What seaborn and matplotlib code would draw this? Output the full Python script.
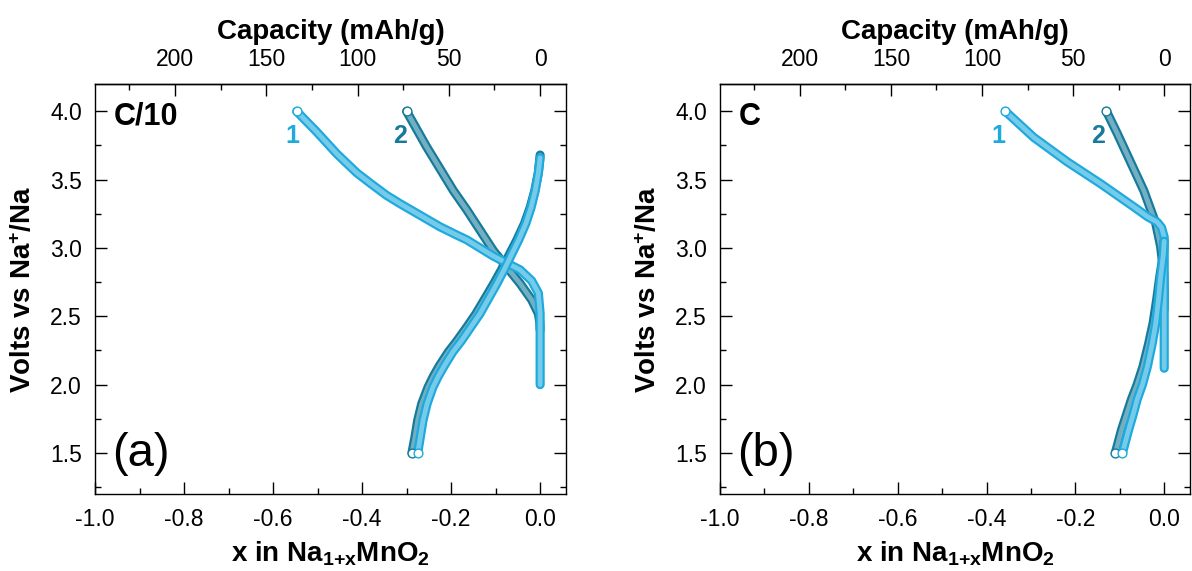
import numpy as np
import pandas as pd
import matplotlib
matplotlib.use('Agg')
import matplotlib.pyplot as plt
import seaborn as sns
from matplotlib.ticker import MultipleLocator, FormatStrFormatter

# ---------------- data ----------------
# Panel (a)  C/10
a_c1_chg_x = [0.0, 0.0, 0.0, -0.004, -0.019, -0.045, -0.075, -0.105, -0.135, -0.165,
              -0.187, -0.225, -0.270, -0.315, -0.345, -0.380, -0.412, -0.457, -0.502, -0.547]
a_c1_chg_v = [2.00, 2.30, 2.52, 2.67, 2.76, 2.84, 2.89, 2.94, 3.00, 3.06,
              3.094, 3.155, 3.24, 3.325, 3.385, 3.47, 3.55, 3.69, 3.85, 4.00]

a_c1_dis_v = [3.66, 3.55, 3.42, 3.30, 3.18, 3.06, 2.94, 2.84, 2.74, 2.63, 2.52,
              2.42, 2.32, 2.24, 2.14, 2.06, 1.98, 1.86, 1.74, 1.62, 1.50]
a_c1_dis_x = [0.0, -0.004, -0.011, -0.020, -0.032, -0.048, -0.066, -0.081, -0.097, -0.116, -0.135,
              -0.156, -0.177, -0.196, -0.215, -0.229, -0.241, -0.254, -0.263, -0.269, -0.275]
a_c2_dis_v = [3.68, 3.55, 3.42, 3.30, 3.18, 3.06, 2.94, 2.84, 2.74, 2.63, 2.52,
              2.42, 2.32, 2.24, 2.14, 2.06, 1.98, 1.86, 1.74, 1.62, 1.50]
a_c2_dis_x = [0.0, -0.004, -0.012, -0.022, -0.035, -0.052, -0.071, -0.087, -0.104, -0.124, -0.144,
              -0.165, -0.187, -0.206, -0.226, -0.240, -0.252, -0.266, -0.275, -0.281, -0.288]

a_c2_chg_x = [0.0, -0.001, -0.004, -0.019, -0.045, -0.075, -0.105, -0.135, -0.165, -0.195, -0.255, -0.300]
a_c2_chg_v = [2.40, 2.46, 2.52, 2.62, 2.74, 2.86, 2.98, 3.13, 3.28, 3.42, 3.74, 4.00]

# Panel (b)  C
b_c1_chg_x = [0.0, 0.0, 0.0, 0.0, -0.006, -0.016, -0.038, -0.068, -0.143, -0.218, -0.294, -0.3575]
b_c1_chg_v = [2.12, 2.60, 2.95, 3.08, 3.15, 3.19, 3.23, 3.30, 3.47, 3.63, 3.81, 4.00]

b_dis_v = [3.05, 2.95, 2.79, 2.62, 2.45, 2.30, 2.13, 2.00, 1.89, 1.78, 1.67, 1.50]
b_c1_dis_x = [0.0, -0.002, -0.008, -0.013, -0.019, -0.027, -0.038, -0.049, -0.061, -0.070, -0.080, -0.094]
b_c2_dis_x = [0.0, -0.002, -0.010, -0.017, -0.025, -0.035, -0.048, -0.061, -0.074, -0.085, -0.096, -0.110]

b_c2_chg_x = [0.0, 0.0, -0.001, -0.008, -0.019, -0.046, -0.076, -0.106, -0.130]
b_c2_chg_v = [2.55, 2.70, 2.81, 3.01, 3.18, 3.42, 3.63, 3.84, 4.00]

x_ticks = [-1.0, -0.8, -0.6, -0.4, -0.2, 0.0]
y_ticks = [1.5, 2.0, 2.5, 3.0, 3.5, 4.0]
cap_ticks = [0, 50, 100, 150, 200]
CAP = 243.8   # mAh/g per unit x in NaMnO2

# ---------------- style ----------------
sns.set_style('ticks')
plt.rcParams['font.family'] = ['Liberation Sans', 'DejaVu Sans']
plt.rcParams['mathtext.fontset'] = 'custom'
plt.rcParams['mathtext.rm'] = 'Liberation Sans'
plt.rcParams['mathtext.bf'] = 'Liberation Sans:bold'
plt.rcParams['mathtext.default'] = 'bf'
plt.rcParams['axes.unicode_minus'] = False
for k in ('text.color', 'axes.labelcolor', 'xtick.color', 'ytick.color', 'axes.edgecolor'):
    plt.rcParams[k] = 'black'

LIGHT = '#1eaadd'
DARK = '#167b9b'

fig = plt.figure(figsize=(11.92, 5.71), dpi=100)
axa = fig.add_axes([0.0797, 0.1349, 0.3951, 0.7180])
axb = fig.add_axes([0.604, 0.1349, 0.3943, 0.7180])


def draw(ax, xs, vs, color):
    df = pd.DataFrame({'x': xs, 'V': vs})
    sns.lineplot(data=df, x='x', y='V', sort=False, estimator=None, color=color,
                 lw=6.6, ax=ax, solid_capstyle='round', solid_joinstyle='round')
    sns.lineplot(data=df, x='x', y='V', sort=False, estimator=None, color='white',
                 lw=3.4, alpha=0.4, ax=ax, solid_capstyle='round', solid_joinstyle='round')
    sns.scatterplot(x=[xs[-1]], y=[vs[-1]], ax=ax, s=40, color='white',
                    edgecolor=color, linewidth=1.0, zorder=5)


# dark (cycle 2) first, light (cycle 1) on top
draw(axa, a_c2_chg_x, a_c2_chg_v, DARK)
draw(axa, a_c2_dis_x, a_c2_dis_v, DARK)
draw(axa, a_c1_chg_x, a_c1_chg_v, LIGHT)
draw(axa, a_c1_dis_x, a_c1_dis_v, LIGHT)

draw(axb, b_c2_chg_x, b_c2_chg_v, DARK)
draw(axb, b_c2_dis_x, b_dis_v, DARK)
draw(axb, b_c1_chg_x, b_c1_chg_v, LIGHT)
draw(axb, b_c1_dis_x, b_dis_v, LIGHT)


def fwd(x):
    return -np.asarray(x) * CAP


def inv(c):
    return -np.asarray(c) / CAP


TICK = 16.5
LAB = 20
for ax in (axa, axb):
    ax.set_xlim(-1.0, 0.058)
    ax.set_ylim(1.2, 4.2)
    ax.set_xticks(x_ticks)
    ax.set_yticks(y_ticks)
    ax.xaxis.set_minor_locator(MultipleLocator(0.1))
    ax.yaxis.set_minor_locator(MultipleLocator(0.25))
    ax.xaxis.set_major_formatter(FormatStrFormatter('%.1f'))
    ax.yaxis.set_major_formatter(FormatStrFormatter('%.1f'))
    ax.tick_params(which='both', direction='in', top=False, right=True,
                   labelsize=TICK, width=1.0, colors='black')
    ax.tick_params(which='major', length=8.6)
    ax.tick_params(which='minor', length=4.3)
    ax.tick_params(axis='x', pad=10)
    ax.tick_params(axis='y', pad=9.5)
    for sp in ax.spines.values():
        sp.set_linewidth(1.0)
        sp.set_color('black')
    ax.set_xlabel(r'x in Na$_{1{+}x}$MnO$_2$', fontsize=LAB, fontweight='bold', labelpad=6)
    ax.set_ylabel(r'Volts vs Na$^{+}$/Na', fontsize=LAB, fontweight='bold', labelpad=9)
    sec = ax.secondary_xaxis('top', functions=(fwd, inv))
    sec.set_xticks(cap_ticks)
    sec.xaxis.set_minor_locator(MultipleLocator(25))
    sec.tick_params(which='both', direction='in', labelsize=TICK, pad=9.5, width=1.0,
                    colors='black')
    sec.tick_params(which='major', length=8.6)
    sec.tick_params(which='minor', length=4.3)
    sec.spines['top'].set_linewidth(1.0)
    sec.set_xlabel('Capacity (mAh/g)', fontsize=LAB, fontweight='bold', labelpad=6)

axa.text(-0.957, 3.96, 'C/10', fontsize=22, fontweight='bold', ha='left', va='center')
axa.text(-0.962, 1.49, '(a)', fontsize=34, ha='left', va='center')
axa.text(-0.557, 3.82, '1', color=LIGHT, fontsize=18, fontweight='bold', ha='center', va='center')
axa.text(-0.315, 3.82, '2', color=DARK, fontsize=18, fontweight='bold', ha='center', va='center')

axb.text(-0.957, 3.96, 'C', fontsize=22, fontweight='bold', ha='left', va='center')
axb.text(-0.962, 1.49, '(b)', fontsize=34, ha='left', va='center')
axb.text(-0.373, 3.82, '1', color=LIGHT, fontsize=18, fontweight='bold', ha='center', va='center')
axb.text(-0.148, 3.82, '2', color=DARK, fontsize=18, fontweight='bold', ha='center', va='center')

fig.savefig('out.png', dpi=100)
